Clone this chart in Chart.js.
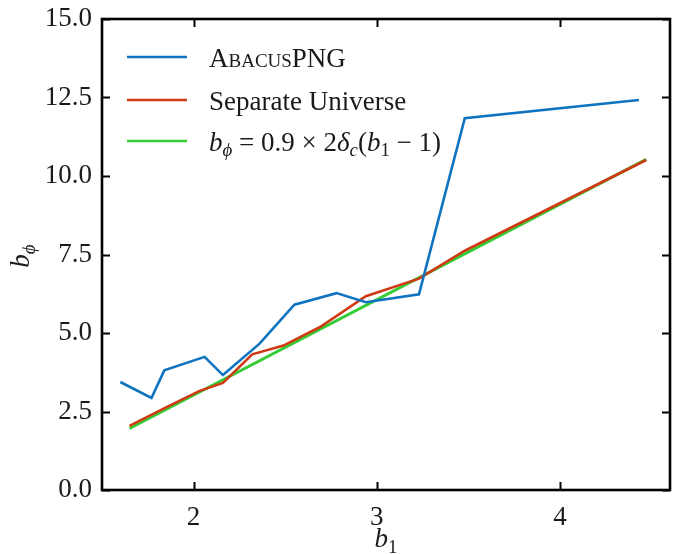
<!DOCTYPE html>
<html>
<head>
<meta charset="utf-8">
<script src="https://cdn.jsdelivr.net/npm/chart.js@4/dist/chart.umd.min.js"></script>
<style>
  html, body { margin: 0; padding: 0; background: #fff; }
</style>
</head>
<body>
<canvas id="chart" width="679" height="554"></canvas>
<script>
// values
const abacusB1   = [1.60, 1.77, 1.84, 2.06, 2.16, 2.36, 2.55, 2.78, 2.94, 3.23, 3.48, 4.43];
const abacusBphi = [3.44, 2.93, 3.81, 4.24, 3.66, 4.66, 5.90, 6.27, 5.98, 6.23, 11.84, 12.42];

const sepB1   = [1.65, 1.85, 2.03, 2.16, 2.32, 2.49, 2.69, 2.94, 3.23, 3.48, 4.47];
const sepBphi = [2.04, 2.63, 3.15, 3.41, 4.32, 4.60, 5.19, 6.17, 6.73, 7.62, 10.51];

const fitB1   = [1.65, 4.47];
const fitBphi = [1.96, 10.53];

const xTicks = [2, 3, 4];
const yTicks = [0, 2.5, 5, 7.5, 10, 12.5, 15];

const seriesNames = ['AbacusPNG', 'Separate Universe', 'fit'];
const seriesColors = ['#0f74c0', '#cf3a14', '#36cc36'];

const FONT = '"Liberation Serif", "DejaVu Serif", serif';
const PHI = '\u03d5';

function toPoints(xs, ys) {
  return xs.map((x, i) => ({ x: x, y: ys[i] }));
}

// draw a run of [text, italic, subscript] pieces
function drawRich(ctx, parts, x, y, size, align) {
  const fontOf = p => (p[1] ? 'italic ' : '') + (p[2] ? size * 0.7 : size) + 'px ' + FONT;
  let total = 0;
  parts.forEach(p => { ctx.font = fontOf(p); total += ctx.measureText(p[0]).width; });
  let cx = align === 'center' ? x - total / 2 : x;
  ctx.textAlign = 'left';
  ctx.textBaseline = 'alphabetic';
  parts.forEach(p => {
    ctx.font = fontOf(p);
    ctx.fillText(p[0], cx, y + (p[2] ? size * 0.22 : 0));
    cx += ctx.measureText(p[0]).width;
  });
}

const framePlugin = {
  id: 'frame',
  afterDatasetsDraw(chart) {
    const ctx = chart.ctx;
    const a = chart.chartArea;
    const xs = chart.scales.x, ys = chart.scales.y;
    ctx.save();
    ctx.strokeStyle = '#000';
    ctx.lineWidth = 2;
    ctx.beginPath();
    xTicks.forEach(v => {
      const px = Math.round(xs.getPixelForValue(v)) + 0.5;
      ctx.moveTo(px, a.bottom); ctx.lineTo(px, a.bottom - 8);
      ctx.moveTo(px, a.top); ctx.lineTo(px, a.top + 8);
    });
    yTicks.forEach(v => {
      const py = Math.round(ys.getPixelForValue(v)) + 0.5;
      ctx.moveTo(a.left, py); ctx.lineTo(a.left + 8, py);
      ctx.moveTo(a.right, py); ctx.lineTo(a.right - 8, py);
    });
    ctx.stroke();
    ctx.lineWidth = 2.6;
    ctx.strokeRect(a.left, a.top, a.right - a.left, a.bottom - a.top);

    // legend
    ctx.fillStyle = '#1a1a1a';
    const rows = [57, 100, 141];
    rows.forEach((ry, i) => {
      ctx.strokeStyle = seriesColors[i];
      ctx.lineWidth = 2.6;
      ctx.beginPath();
      ctx.moveTo(127, ry); ctx.lineTo(187, ry);
      ctx.stroke();
    });
    ctx.textAlign = 'left';
    ctx.textBaseline = 'alphabetic';
    ctx.font = 'small-caps 27px ' + FONT;
    ctx.fillText(seriesNames[0], 209, rows[0] + 9.5);
    ctx.font = '27px ' + FONT;
    ctx.fillText(seriesNames[1], 209, rows[1] + 9.5);
    drawRich(ctx, [['b', true], [PHI, true, true], [' = 0.9 \u00d7 2', false], ['\u03b4', true], ['c', true, true],
                   ['(', false], ['b', true], ['1', false, true], [' \u2212 1)', false]], 209, rows[2] + 9.5, 27);

    // axis titles
    drawRich(ctx, [['b', true], ['1', false, true]], (a.left + a.right) / 2, 547, 27, 'center');
    ctx.save();
    ctx.translate(29, 256);
    ctx.rotate(-Math.PI / 2);
    drawRich(ctx, [['b', true], [PHI, true, true]], 0, 0, 27, 'center');
    ctx.restore();
    ctx.restore();
  }
};

new Chart(document.getElementById('chart'), {
  type: 'scatter',
  data: {
    datasets: [
      { label: seriesNames[0], data: toPoints(abacusB1, abacusBphi), borderColor: seriesColors[0] },
      { label: seriesNames[1], data: toPoints(sepB1, sepBphi), borderColor: seriesColors[1] },
      { label: seriesNames[2], data: toPoints(fitB1, fitBphi), borderColor: seriesColors[2], borderWidth: 3 }
    ].map(d => Object.assign({ showLine: true, pointRadius: 0, borderWidth: 2.6, tension: 0, fill: false }, d))
  },
  options: {
    responsive: false,
    animation: false,
    devicePixelRatio: 1,
    layout: { padding: { top: 19, right: 9, left: 0, bottom: 0 } },
    plugins: { legend: { display: false }, tooltip: { enabled: false } },
    scales: {
      x: {
        type: 'linear', min: 1.5, max: 4.6,
        afterBuildTicks: s => { s.ticks = xTicks.map(v => ({ value: v })); },
        afterFit: s => { s.height = 64; s.paddingLeft = 0; s.paddingRight = 0; },
        grid: { display: false, drawTicks: false },
        border: { display: false },
        ticks: { color: '#1a1a1a', padding: 12, font: { family: FONT, size: 27 }, callback: v => String(v) }
      },
      y: {
        type: 'linear', min: 0, max: 15,
        afterBuildTicks: s => { s.ticks = yTicks.map(v => ({ value: v })); },
        afterFit: s => { s.width = 102; s.paddingTop = 0; s.paddingBottom = 0; },
        grid: { display: false, drawTicks: false },
        border: { display: false },
        ticks: { color: '#1a1a1a', padding: 10, font: { family: FONT, size: 27 }, callback: v => v.toFixed(1) }
      }
    }
  },
  plugins: [framePlugin]
});
</script>
</body>
</html>
